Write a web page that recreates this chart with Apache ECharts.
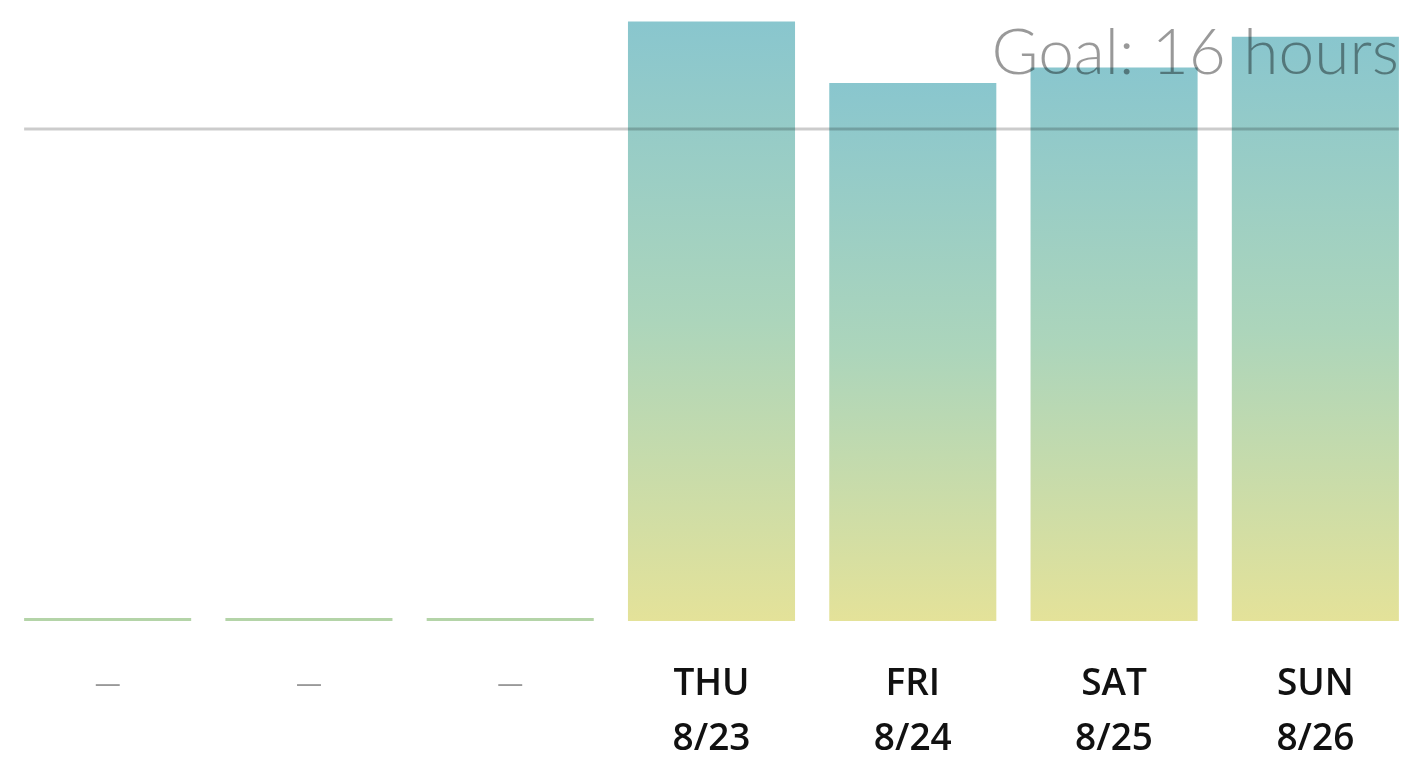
<!DOCTYPE html>
<html>
<head>
<meta charset="utf-8">
<script src="https://cdn.jsdelivr.net/npm/echarts@6/dist/echarts.min.js"></script>
<style>
  html, body { margin: 0; padding: 0; background: #fff; }
  #chart { width: 1404px; height: 758px; }
</style>
</head>
<body>
<div id="chart"></div>
<script>
// Weekly sleep log: hours per day against a 16-hour goal
const days = ['', '', '', 'THU', 'FRI', 'SAT', 'SUN'];
const dates = ['', '', '', '8/23', '8/24', '8/25', '8/26'];
const hours = [0, 0, 0, 19.5, 17.5, 18, 19];
const goalHours = 16;
const goalText = 'Goal: 16 hours';

const BAR_GAP = 0.17;           // fraction of each category left empty
const LABEL_FONT = 'Open Sans, Noto Sans, sans-serif';

const chart = echarts.init(document.getElementById('chart'), null, { renderer: 'canvas' });

const barData = hours.map(function (h) {
  if (h === 0) {
    return { value: 0, itemStyle: { color: '#b4d4a8' } };
  }
  return {
    value: h,
    itemStyle: {
      color: new echarts.graphic.LinearGradient(0, 0, 0, 1, [
        { offset: 0, color: '#89c6ce' },
        { offset: 0.5, color: '#acd5bb' },
        { offset: 1, color: '#e4e299' }
      ])
    }
  };
});

// goal line spans from the first bar's left edge to the last bar's right edge
const goalData = [
  [-0.5 + BAR_GAP / 2, goalHours],
  [days.length - 0.5 - BAR_GAP / 2, goalHours]
];

chart.setOption({
  animation: false,
  backgroundColor: '#fff',
  grid: { left: 7, width: 1409, top: 6, bottom: 137, containLabel: false, outerBoundsMode: 'none' },
  xAxis: [
    {
      type: 'category',
      data: days,
      axisLine: { show: false },
      axisTick: { show: false },
      axisLabel: {
        interval: 0,
        margin: 36,
        formatter: function (value, idx) {
          if (!days[idx]) return '{dash|—}';
          return '{day|' + days[idx] + '}\n{date|' + dates[idx] + '}';
        },
        rich: {
          day: { fontFamily: LABEL_FONT, fontSize: 37, fontWeight: 600, color: '#111', lineHeight: 55 },
          date: { fontFamily: LABEL_FONT, fontSize: 37, fontWeight: 600, color: '#111', lineHeight: 55 },
          dash: { fontFamily: LABEL_FONT, fontSize: 26, color: '#999', lineHeight: 55 }
        }
      }
    },
    {
      type: 'value',
      min: -0.5,
      max: days.length - 0.5,
      show: false
    }
  ],
  yAxis: {
    type: 'value',
    min: 0,
    max: 20,
    show: false
  },
  series: [
    {
      type: 'bar',
      data: barData,
      barCategoryGap: (BAR_GAP * 100) + '%',
      barMinHeight: 3,
      z: 2
    },
    {
      type: 'line',
      xAxisIndex: 1,
      data: goalData,
      symbol: 'none',
      silent: true,
      z: 5,
      lineStyle: { color: 'rgba(0,0,0,0.2)', width: 3 },
      endLabel: {
        show: true,
        formatter: goalText,
        align: 'right',
        verticalAlign: 'bottom',
        distance: 0,
        offset: [0, -44],
        fontFamily: 'Lato, Open Sans, sans-serif',
        fontWeight: 300,
        fontSize: 64,
        color: 'rgba(0,0,0,0.4)'
      }
    }
  ]
});
</script>
</body>
</html>
